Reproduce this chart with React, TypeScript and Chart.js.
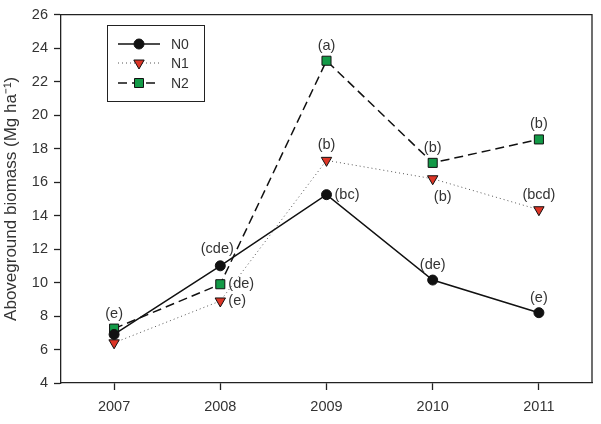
import React, { useEffect, useRef } from 'react';
import { Chart, registerables } from 'chart.js';

Chart.register(...registerables);

// ---- data ----
const years = [2007, 2008, 2009, 2010, 2011];
const seriesNames = ['N0', 'N1', 'N2'];
const n0 = [6.9, 11.0, 15.25, 10.15, 8.2];
const n1 = [6.4, 8.9, 17.3, 16.2, 14.35];
const n2 = [7.25, 9.9, 23.25, 17.15, 18.55];
const n0Letters = ['', '(cde)', '(bc)', '(de)', '(e)'];
const n1Letters = ['', '(e)', '(b)', '(b)', '(bcd)'];
const n2Letters = ['(e)', '(de)', '(a)', '(b)', '(b)'];
const yTickValues = [4, 6, 8, 10, 12, 14, 16, 18, 20, 22, 24, 26];
const yTitle = 'Aboveground biomass (Mg ha\u207B\u00B9)';

// ---- styles ----
const n0Place = ['', 'al', 'r', 'a', 'a'];
const n1Place = ['', 'r', 'a', 'br', 'a'];
const n2Place = ['a', 'r', 'a', 'a', 'a'];
const FONT = "'Liberation Sans', Arial, sans-serif";
const TEXT = '#333333';
const AXIS = '#222222';
const RED = '#dd3526';
const GREEN = '#139a47';

const seriesStyles = [
  { color: '#111111', dash: [] as number[], width: 1.5, marker: 'circle', fill: '#111111' },
  { color: '#555555', dash: [1, 3], width: 1, marker: 'tri', fill: RED },
  { color: '#111111', dash: [9, 5], width: 1.5, marker: 'square', fill: GREEN },
];

const placeOffsets: Record<string, { dx: number; dy: number; align: CanvasTextAlign }> = {
  a: { dx: 0, dy: -15, align: 'center' },
  al: { dx: -3, dy: -17, align: 'center' },
  r: { dx: 8, dy: 0, align: 'left' },
  br: { dx: 10, dy: 18, align: 'center' },
};

function drawMarker(ctx: CanvasRenderingContext2D, kind: string, x: number, y: number, fill: string) {
  ctx.save();
  ctx.setLineDash([]);
  ctx.fillStyle = fill;
  ctx.strokeStyle = '#111111';
  ctx.lineWidth = 1;
  ctx.beginPath();
  if (kind === 'circle') {
    ctx.arc(x, y, 5, 0, Math.PI * 2);
  } else if (kind === 'tri') {
    const r = 6;
    ctx.moveTo(x, y + r);
    ctx.lineTo(x - r * 0.866, y - r / 2);
    ctx.lineTo(x + r * 0.866, y - r / 2);
    ctx.closePath();
  } else {
    ctx.rect(x - 4.5, y - 4.5, 9, 9);
  }
  ctx.fill();
  ctx.stroke();
  ctx.restore();
}

const annotatePlugin = {
  id: 'annotateLetters',
  afterDatasetsDraw(chart: any) {
    const ctx: CanvasRenderingContext2D = chart.ctx;
    const xs = chart.scales.x;
    const ys = chart.scales.y;
    const all = [
      [n0, n0Letters, n0Place],
      [n1, n1Letters, n1Place],
      [n2, n2Letters, n2Place],
    ] as [number[], string[], string[]][];
    ctx.save();
    ctx.font = `14.5px ${FONT}`;
    ctx.fillStyle = TEXT;
    ctx.textBaseline = 'middle';
    all.forEach(([vals, letters, places]) => {
      vals.forEach((v, i) => {
        if (!letters[i]) return;
        const o = placeOffsets[places[i]];
        ctx.textAlign = o.align;
        ctx.fillText(letters[i], xs.getPixelForValue(years[i]) + o.dx, ys.getPixelForValue(v) + o.dy);
      });
    });
    ctx.restore();
  },
  afterDraw(chart: any) {
    const ctx: CanvasRenderingContext2D = chart.ctx;
    const a = chart.chartArea;
    // frame top & right
    ctx.save();
    ctx.strokeStyle = AXIS;
    ctx.lineWidth = 1.3;
    ctx.beginPath();
    ctx.moveTo(a.left, a.top);
    ctx.lineTo(a.right, a.top);
    ctx.lineTo(a.right, a.bottom);
    ctx.stroke();
    // legend
    ctx.lineWidth = 1;
    ctx.strokeStyle = AXIS;
    ctx.strokeRect(107.5, 25.5, 97, 76);
    const rows = [44, 63, 83];
    seriesNames.forEach((name, i) => {
      const s = seriesStyles[i];
      ctx.save();
      ctx.strokeStyle = s.color;
      ctx.lineWidth = s.width;
      ctx.setLineDash(s.dash);
      ctx.beginPath();
      ctx.moveTo(118, rows[i]);
      ctx.lineTo(160, rows[i]);
      ctx.stroke();
      ctx.restore();
      drawMarker(ctx, s.marker, 139, rows[i], s.fill);
      ctx.fillStyle = TEXT;
      ctx.font = `14px ${FONT}`;
      ctx.textAlign = 'left';
      ctx.textBaseline = 'middle';
      ctx.fillText(name, 171, rows[i] + 1);
    });
    ctx.restore();
  },
};

export default function App() {
  const ref = useRef<HTMLCanvasElement | null>(null);
  useEffect(() => {
    if (!ref.current) return;
    const datasets = [n0, n1, n2].map((vals, i) => {
      const s = seriesStyles[i];
      return {
        label: seriesNames[i],
        data: vals.map((v, j) => ({ x: years[j], y: v })),
        borderColor: s.color,
        borderWidth: s.width,
        borderDash: s.dash,
        backgroundColor: s.fill,
        pointBackgroundColor: s.fill,
        pointBorderColor: '#111111',
        pointBorderWidth: 1,
        pointStyle: s.marker === 'circle' ? 'circle' : s.marker === 'tri' ? 'triangle' : 'rect',
        pointRotation: s.marker === 'tri' ? 180 : 0,
        pointRadius: s.marker === 'circle' ? 5 : s.marker === 'tri' ? 6 : 6.4,
        tension: 0,
        fill: false,
      };
    });
    const chart = new Chart(ref.current, {
      type: 'line',
      data: { datasets: datasets as any },
      plugins: [annotatePlugin],
      options: {
        animation: false,
        responsive: false,
        layout: { padding: { top: 2, right: 9, left: 0, bottom: 0 } },
        plugins: { legend: { display: false }, tooltip: { enabled: false } },
        scales: {
          x: {
            type: 'linear',
            min: 2006.5,
            max: 2011.5,
            afterBuildTicks: (s: any) => {
              s.ticks = years.map((v) => ({ value: v }));
            },
            afterFit: (s: any) => {
              s.height = 41;
            },
            ticks: {
              callback: (v: any) => String(v),
              font: { family: FONT, size: 14.5 },
              color: TEXT,
              padding: 8,
              maxRotation: 0,
            },
            grid: { drawOnChartArea: false, drawTicks: true, tickLength: 7, tickColor: AXIS, tickWidth: 1.3 },
            border: { display: true, color: AXIS, width: 1.3 },
          },
          y: {
            type: 'linear',
            min: 4,
            max: 26,
            afterBuildTicks: (s: any) => {
              s.ticks = yTickValues.map((v) => ({ value: v }));
            },
            afterFit: (s: any) => {
              s.width = 61;
            },
            ticks: {
              font: { family: FONT, size: 14.5 },
              color: TEXT,
              padding: 6,
            },
            grid: { drawOnChartArea: false, drawTicks: true, tickLength: 7, tickColor: AXIS, tickWidth: 1.3 },
            border: { display: true, color: AXIS, width: 1.3 },
            title: {
              display: true,
              text: yTitle,
              font: { family: FONT, size: 17 },
              color: TEXT,
              padding: { top: 1, bottom: 0 },
            },
          },
        },
      },
    });
    return () => chart.destroy();
  }, []);
  return (
    <div style={{ position: 'fixed', left: 0, top: 0, width: 601, height: 424, background: '#ffffff' }}>
      <canvas ref={ref} width={601} height={424} style={{ display: 'block' }} />
    </div>
  );
}
